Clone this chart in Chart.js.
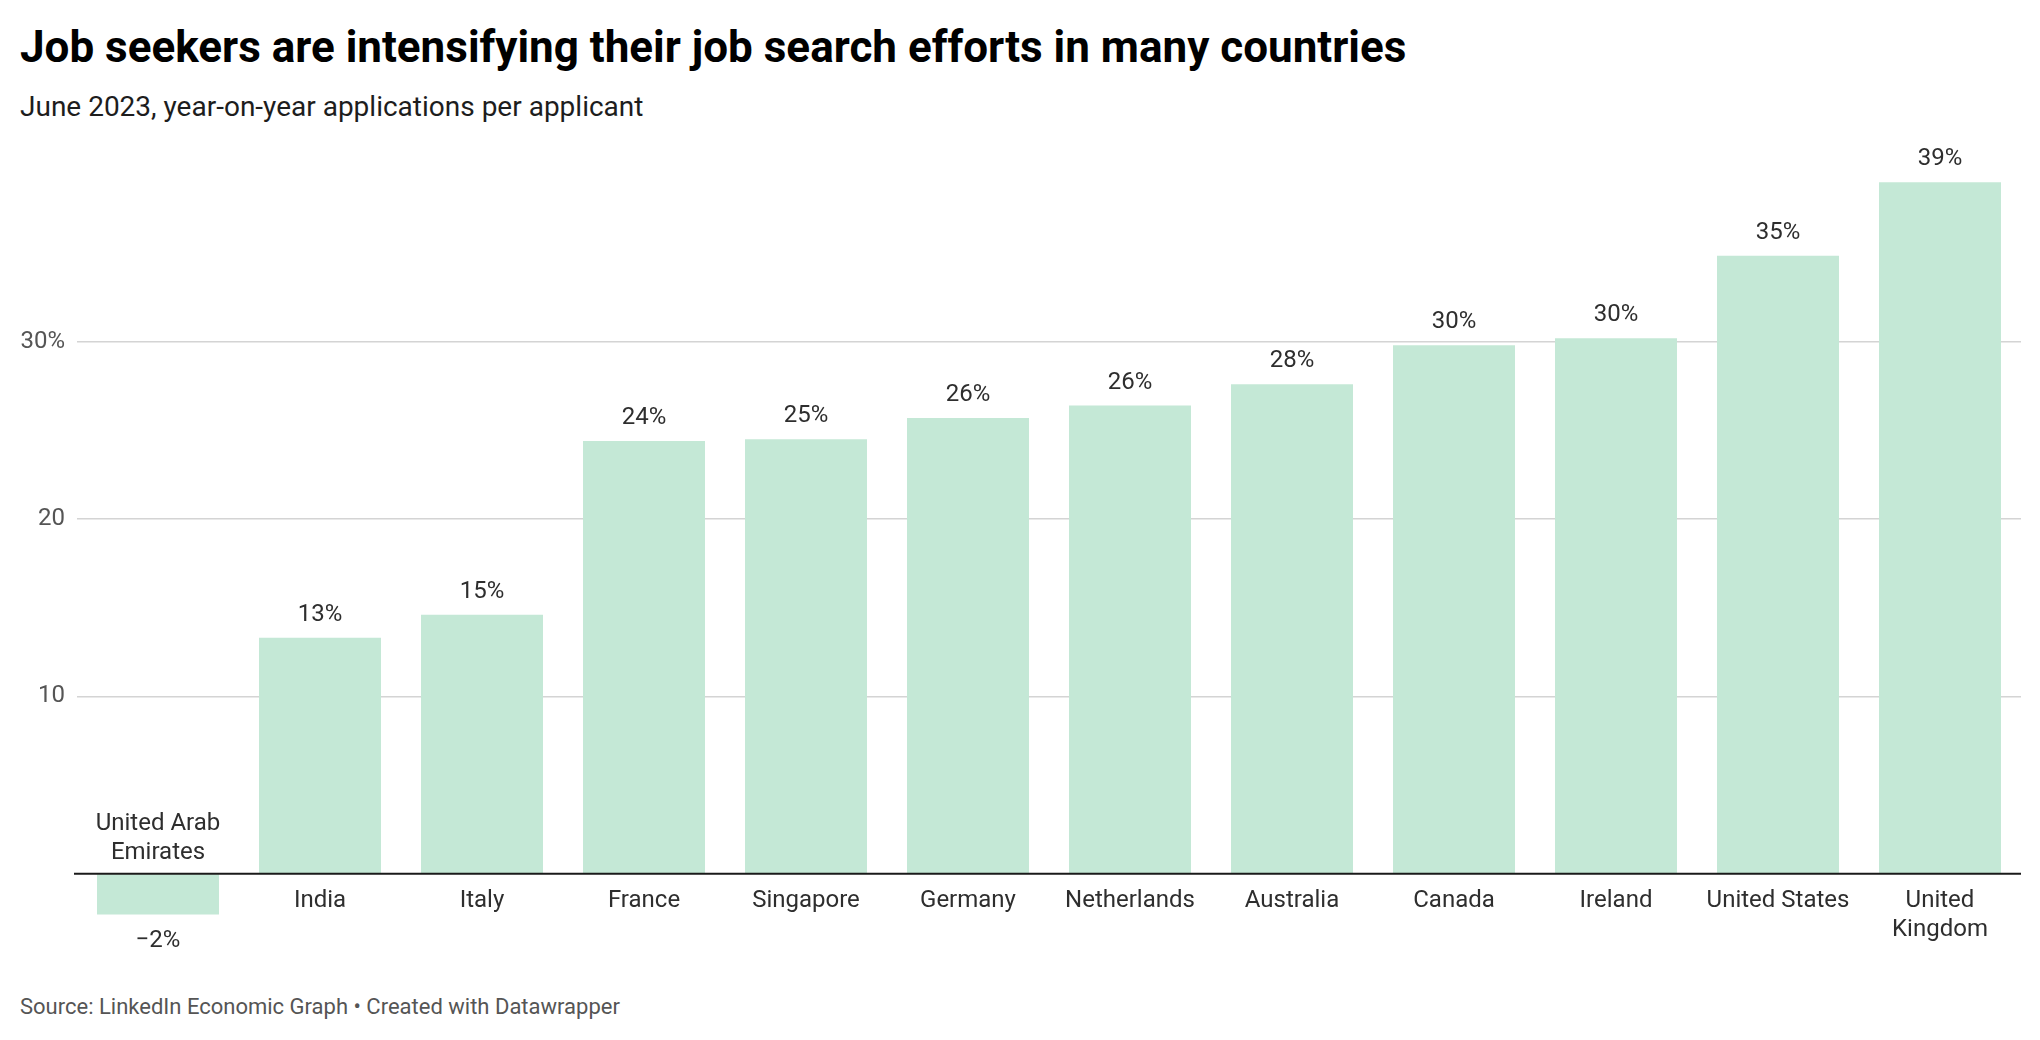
<!DOCTYPE html>
<html>
<head>
<meta charset="utf-8">
<script src="https://cdn.jsdelivr.net/npm/chart.js@4"></script>
<style>
  html, body { margin: 0; padding: 0; background: #fff; }
  body { width: 2040px; height: 1040px; position: relative; overflow: hidden; font-family: Roboto, sans-serif; }
  #title { position: absolute; left: 20px; top: 25px; font-size: 44px; line-height: 1; font-weight: 700; color: #000; white-space: nowrap; }
  #subtitle { position: absolute; left: 20px; top: 93px; font-size: 28px; line-height: 1; font-weight: 400; color: #1d1d1d; white-space: nowrap; }
  #source { position: absolute; left: 20px; top: 996px; font-size: 22px; line-height: 1; color: #555; white-space: nowrap; }
  canvas { position: absolute; left: 0; top: 0; }
</style>
</head>
<body>
<div id="title">Job seekers are intensifying their job search efforts in many countries</div>
<div id="subtitle">June 2023, year-on-year applications per applicant</div>
<div id="source">Source: LinkedIn Economic Graph • Created with Datawrapper</div>
<canvas id="c" width="2040" height="1040"></canvas>
<script>
const categories = [
  ["United Arab", "Emirates"], "India", "Italy", "France", "Singapore", "Germany",
  "Netherlands", "Australia", "Canada", "Ireland", "United States", ["United", "Kingdom"]
];
const values = [-2.3, 13.3, 14.6, 24.4, 24.5, 25.7, 26.4, 27.6, 29.8, 30.2, 34.85, 39.0];
const yTicks = [0, 10, 20, 30];

const barColor = '#c4e8d6';
const labelColor = '#2e2e2e';

function fmt(v) {
  const r = Math.round(v);
  return (r < 0 ? '\u2212' + Math.abs(r) : String(r)) + '%';
}

const labelPlugin = {
  id: 'labels',
  afterDatasetsDraw(chart) {
    const ctx = chart.ctx;
    const meta = chart.getDatasetMeta(0);
    const yScale = chart.scales.y;
    const area = chart.chartArea;
    const zeroY = yScale.getPixelForValue(0);
    ctx.save();
    ctx.strokeStyle = '#1a1a1a';
    ctx.lineWidth = 2;
    ctx.beginPath();
    ctx.moveTo(area.left - 3, zeroY);
    ctx.lineTo(area.right, zeroY);
    ctx.stroke();

    ctx.font = '24px Roboto';
    ctx.fillStyle = labelColor;
    ctx.textAlign = 'center';
    ctx.textBaseline = 'middle';
    const lineH = 29;
    meta.data.forEach((bar, i) => {
      const v = values[i];
      const x = bar.x;
      const lines = Array.isArray(categories[i]) ? categories[i] : [categories[i]];
      if (v >= 0) {
        ctx.fillText(fmt(v), x, bar.y - 23);
        lines.forEach((t, k) => ctx.fillText(t, x, zeroY + 27 + k * lineH));
      } else {
        ctx.fillText(fmt(v), x, bar.y + 27);
        const n = lines.length;
        lines.forEach((t, k) => ctx.fillText(t, x, zeroY - 21 - (n - 1 - k) * lineH));
      }
    });
    ctx.restore();
  }
};

new Chart(document.getElementById('c'), {
  type: 'bar',
  data: {
    labels: categories,
    datasets: [{
      data: values,
      backgroundColor: barColor,
      borderWidth: 0,
      categoryPercentage: 1.0,
      barPercentage: 0.753
    }]
  },
  options: {
    responsive: false,
    devicePixelRatio: 1,
    animation: false,
    layout: { padding: { left: 20, right: 19, top: 129, bottom: 122 } },
    plugins: { legend: { display: false }, tooltip: { enabled: false } },
    scales: {
      x: { display: false },
      y: {
        min: -2.5,
        max: 42,
        afterBuildTicks(scale) { scale.ticks = yTicks.map(v => ({ value: v })); },
        afterFit(scale) { scale.width = 57; },
        border: { display: false },
        grid: {
          color: ctx => ctx.tick && ctx.tick.value === 0 ? 'rgba(0,0,0,0)' : '#d4d4d4',
          lineWidth: 1.4,
          drawTicks: false
        },
        ticks: {
          padding: 12,
          color: '#555',
          font: { family: 'Roboto', size: 24 },
          callback: v => v === 0 ? '' : (v === 30 ? '30%' : String(v))
        }
      }
    }
  },
  plugins: [labelPlugin]
});
</script>
</body>
</html>
